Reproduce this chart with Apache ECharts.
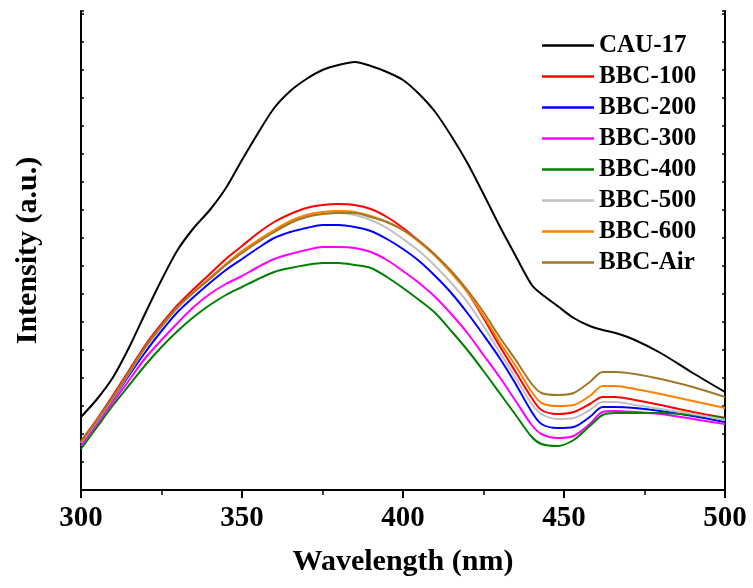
<!DOCTYPE html>
<html>
<head>
<meta charset="utf-8">
<script src="https://cdn.jsdelivr.net/npm/echarts@6/dist/echarts.min.js"></script>
<style>
    html, body { margin: 0; padding: 0; background: #fff; }
    .chart { width: 753px; height: 588px; }
</style>
</head>
<body>
<div class="chart"></div>
<script>
// wavelength (nm)
const wavelength = [300, 305, 310, 315, 320, 325, 330, 335, 340, 345, 350, 355, 360, 365, 370, 375, 380, 385, 390, 395,
    400, 405, 410, 415, 420, 425, 430, 435, 440, 443, 448, 453, 458, 462, 466, 472, 480, 490, 500]

// intensity (a.u.)
const cau17 = [73, 91, 113, 143, 177, 210, 240, 262, 280, 302, 330, 357, 382, 399, 411, 420, 425, 428, 424, 418,
    410, 396, 378, 354, 327, 296, 264, 234, 205, 196, 184, 172, 164, 160, 157, 150, 137, 117, 98]
const bbc100 = [49, 71, 95, 120, 145, 166, 185, 201, 216, 231, 244, 257, 268, 276, 282, 285, 286, 285, 281, 273,
    262, 249, 235, 218, 198, 172, 144, 118, 92, 80, 76, 78, 86, 93, 93, 90, 85, 78, 72]
const bbc200 = [46, 68, 91, 115, 138, 159, 178, 193, 207, 220, 231, 242, 252, 258, 262, 265, 265, 263, 259, 251,
    241, 229, 214, 197, 177, 155, 132, 106, 78, 66, 62, 63, 73, 83, 83, 82, 79, 74, 68]
const bbc300 = [44, 66, 88, 110, 132, 150, 167, 183, 196, 206, 214, 223, 231, 236, 240, 243, 243, 242, 238, 230,
    219, 207, 193, 176, 157, 135, 113, 89, 65, 56, 52, 54, 66, 78, 79, 78, 76, 71, 66]
const bbc400 = [41, 63, 85, 105, 125, 143, 159, 173, 185, 195, 203, 211, 218, 222, 225, 227, 227, 225, 222, 213,
    202, 190, 177, 159, 140, 119, 97, 75, 53, 46, 44, 50, 64, 75, 77, 77, 77, 75, 72]
const bbc500 = [47, 69, 92, 117, 142, 163, 182, 197, 211, 225, 237, 248, 258, 267, 273, 276, 277, 275, 270, 262,
    251, 239, 224, 207, 188, 164, 138, 112, 86, 76, 71, 72, 80, 88, 88, 85, 81, 76, 70]
const bbc600 = [48, 70, 93, 118, 143, 164, 183, 198, 212, 226, 239, 250, 260, 269, 275, 278, 279, 278, 274, 268,
    260, 248, 234, 217, 198, 174, 148, 124, 98, 87, 84, 85, 94, 104, 104, 101, 96, 89, 82]
const bbcAir = [48, 70, 93, 118, 143, 164, 183, 198, 211, 225, 237, 248, 258, 267, 273, 276, 277, 277, 273, 268,
    260, 249, 235, 219, 200, 178, 153, 130, 106, 97, 95, 97, 108, 118, 118, 116, 111, 103, 93]

const names = ['CAU-17', 'BBC-100', 'BBC-200', 'BBC-300', 'BBC-400', 'BBC-500', 'BBC-600', 'BBC-Air']
const colors = ['#000000', '#ff0000', '#0000ff', '#ff00ff', '#008000', '#c0c0c0', '#ff8000', '#a07828']
const values = [cau17, bbc100, bbc200, bbc300, bbc400, bbc500, bbc600, bbcAir]

const font = '"Liberation Serif", "Times New Roman", serif';

(function () {
    let chart = echarts.init(document.querySelector('.chart'))

    let series = names.map(function (name, i) {
        return {
            name: name,
            type: 'line',
            smooth: 0.3,
            symbol: 'none',
            lineStyle: { width: 2, color: colors[i] },
            itemStyle: { color: colors[i] },
            data: wavelength.map(function (w, j) { return [w, values[i][j]] })
        }
    })

    let option = {
        animation: false,
        backgroundColor: '#fff',
        grid: {
            left: 81,
            right: 28,
            top: 11,
            bottom: 98
        },
        legend: {
            orient: 'vertical',
            left: 542,
            top: 33,
            padding: 0,
            icon: 'rect',
            itemWidth: 52,
            itemHeight: 2.5,
            itemGap: 6,
            data: names,
            textStyle: {
                fontFamily: font,
                fontWeight: 'bold',
                fontSize: 25,
                lineHeight: 25,
                color: '#000'
            }
        },
        xAxis: [
            {
                type: 'value',
                position: 'bottom',
                min: 300,
                max: 500,
                interval: 50,
                name: 'Wavelength (nm)',
                nameLocation: 'middle',
                nameGap: 57,
                nameTextStyle: {
                    fontFamily: font,
                    fontWeight: 'bold',
                    fontSize: 30,
                    color: '#000'
                },
                axisLine: { lineStyle: { color: '#000', width: 2 } },
                axisTick: { length: 8, lineStyle: { color: '#000', width: 2 } },
                minorTick: { show: true, splitNumber: 2, length: 5, lineStyle: { color: '#000', width: 1.5 } },
                axisLabel: {
                    margin: 14,
                    fontFamily: font,
                    fontWeight: 'bold',
                    fontSize: 29,
                    color: '#000'
                },
                splitLine: { show: false }
            },
            {
                type: 'value',
                position: 'top',
                min: 300,
                max: 500,
                interval: 50,
                axisLine: { lineStyle: { color: '#000', width: 2 } },
                axisTick: { inside: true, length: 3, lineStyle: { color: '#000', width: 1.5 } },
                minorTick: { show: true, splitNumber: 2, length: 3, lineStyle: { color: '#000', width: 1.5 } },
                axisLabel: { show: false },
                splitLine: { show: false }
            }
        ],
        yAxis: [
            {
                type: 'value',
                position: 'left',
                min: 0,
                max: 479,
                interval: 28,
                name: 'Intensity (a.u.)',
                nameLocation: 'middle',
                nameGap: 38,
                nameTextStyle: {
                    fontFamily: font,
                    fontWeight: 'bold',
                    fontSize: 30,
                    color: '#000'
                },
                axisLine: { show: true, lineStyle: { color: '#000', width: 2 } },
                axisTick: { inside: true, length: 3, lineStyle: { color: '#000', width: 1.5 } },
                axisLabel: { show: false },
                splitLine: { show: false }
            },
            {
                type: 'value',
                position: 'right',
                min: 0,
                max: 479,
                interval: 28,
                axisLine: { show: true, lineStyle: { color: '#000', width: 2 } },
                axisTick: { inside: true, length: 3, lineStyle: { color: '#000', width: 1.5 } },
                axisLabel: { show: false },
                splitLine: { show: false }
            }
        ],
        series: series
    }
    chart.setOption(option)
})()
</script>
</body>
</html>
